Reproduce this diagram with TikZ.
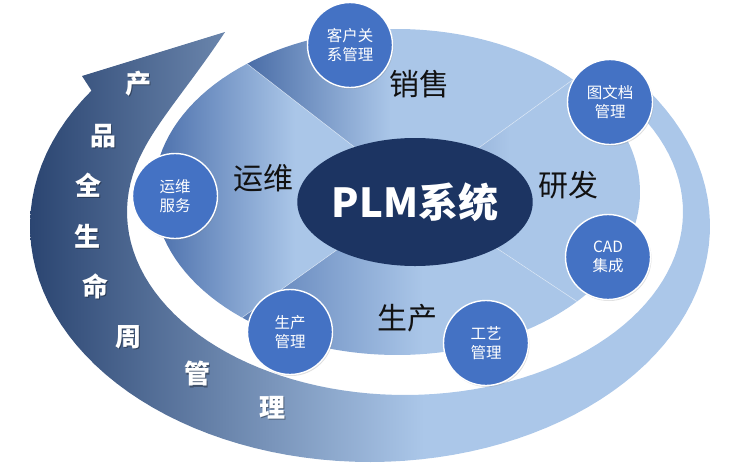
\documentclass[tikz,border=0pt]{standalone}
\usepackage{fontspec}
\setmainfont{Noto Sans CJK SC}
\usetikzlibrary{shadows,shapes.geometric}
\definecolor{arrdark}{HTML}{2B4571}
\definecolor{arrlight}{HTML}{ABC7E9}
\definecolor{seclight}{HTML}{AAC6E8}
\definecolor{leftdark}{HTML}{4B6FAB}
\definecolor{topdark}{HTML}{4A6DA7}
\definecolor{botdark}{HTML}{5B7EB6}
\definecolor{rightdark}{HTML}{7E9BC8}
\definecolor{circblue}{HTML}{4472C4}
\definecolor{plmnavy}{HTML}{1C3462}
\definecolor{labelink}{HTML}{111111}
\pgfdeclarehorizontalshading{arrshade}{100bp}{color(0bp)=(arrdark); color(25bp)=(arrdark); color(54bp)=(arrlight); color(100bp)=(arrlight)}
\pgfdeclarehorizontalshading{leftshade}{100bp}{color(0bp)=(leftdark); color(25bp)=(leftdark); color(52bp)=(seclight); color(100bp)=(seclight)}
\pgfdeclarehorizontalshading{topshade}{100bp}{color(0bp)=(topdark); color(25bp)=(topdark); color(47bp)=(seclight); color(100bp)=(seclight)}
\pgfdeclarehorizontalshading{botshade}{100bp}{color(0bp)=(botdark); color(25bp)=(botdark); color(52bp)=(seclight); color(100bp)=(seclight)}
\pgfdeclarehorizontalshading{rightshade}{100bp}{color(0bp)=(rightdark); color(25bp)=(rightdark); color(46bp)=(seclight); color(100bp)=(seclight)}
\tikzset{
  circ/.style={circle, minimum size=85pt, inner sep=0pt, fill=circblue, draw=white,
    line width=1.4pt, text=white, align=center, font=\fontsize{15.5}{19}\selectfont,
    drop shadow={opacity=0.25, shadow xshift=1pt, shadow yshift=-1.5pt}},
  seclabel/.style={text=labelink, font=\fontsize{30}{36}\selectfont, inner sep=0pt},
  arrtext/.style={text=white, font=\fontsize{26}{30}\selectfont\bfseries, inner sep=0pt},
  arrtextshadow/.style={text=black, opacity=0.35, font=\fontsize{26}{30}\selectfont\bfseries, inner sep=0pt},
  divider/.style={white, line width=0.6pt, opacity=0.45},
}
\begin{document}
\begin{tikzpicture}[x=1pt,y=-1pt]
\useasboundingbox (0,0) rectangle (754,474);
% big lifecycle arrow
\path[shading=arrshade]
  plot[domain=-38:215, samples=90, variable=\t] ({370+340*cos(\t)},{226+236*sin(\t)})
  -- (82,76) -- (225,32)
  .. controls (195,78) and (160,118) .. ({405+278*cos(200)},{212+183*sin(200)})
  -- plot[domain=200:-40, samples=90, variable=\t] ({405+278*cos(\t)},{212+183*sin(\t)})
  -- cycle;
% hub and sector end points
\coordinate (hub) at (415,194);
\coordinate (tl) at ({397+243*cos(231.9)},{192+163*sin(231.9)});
\coordinate (tr) at ({397+243*cos(316.4)},{192+163*sin(316.4)});
\coordinate (br) at ({397+243*cos(42.2)},{192+163*sin(42.2)});
\coordinate (bl) at ({397+243*cos(129.6)},{192+163*sin(129.6)});
% sectors
\path[shading=topshade] (hub) -- plot[domain=231.9:316.4, samples=40, variable=\t] ({397+243*cos(\t)},{192+163*sin(\t)}) -- cycle;
\path[shading=rightshade] (hub) -- plot[domain=316.4:402.2, samples=40, variable=\t] ({397+243*cos(\t)},{192+163*sin(\t)}) -- cycle;
\path[shading=botshade] (hub) -- plot[domain=42.2:129.6, samples=40, variable=\t] ({397+243*cos(\t)},{192+163*sin(\t)}) -- cycle;
\path[shading=leftshade] (hub) -- plot[domain=129.6:231.9, samples=40, variable=\t] ({397+243*cos(\t)},{192+163*sin(\t)}) -- cycle;
\draw[divider] (hub) -- (tl);
\draw[divider] (hub) -- (tr);
\draw[divider] (hub) -- (br);
\draw[divider] (hub) -- (bl);
% central ellipse
\node[ellipse, fill=plmnavy, minimum width=206pt, minimum height=128pt, inner sep=0pt,
  text=white, font=\fontsize{40}{48}\selectfont\bfseries] (plm) at (415,202) {PLM系统};
% sector labels
\node[seclabel] (sales) at (419,84) {销售};
\node[seclabel] (ops) at (263,178) {运维};
\node[seclabel] (rd) at (568,185) {研发};
\node[seclabel] (prod) at (407,318) {生产};
% circles
\node[circ] (crm) at (350,45) {客户关\\系管理};
\node[circ] (doc) at (610,102) {图文档\\管理};
\node[circ] (svc) at (175,196) {运维\\服务};
\node[circ] (cad) at (608,257) {CAD\\集成};
\node[circ] (pm) at (290,332) {生产\\管理};
\node[circ] (proc) at (486,343) {工艺\\管理};
% arrow text
\foreach \ch/\px/\py/\nm in {产/138/84/a1, 品/103/136/a2, 全/88/185/a3, 生/87/236/a4, 命/95/286/a5, 周/128/337/a6, 管/197/374/a7, 理/272/408/a8}{
  \node[arrtextshadow] at (\px+1.2,\py+1.2) {\ch};
  \node[arrtext] (\nm) at (\px,\py) {\ch};
}
\end{tikzpicture}
\end{document}
